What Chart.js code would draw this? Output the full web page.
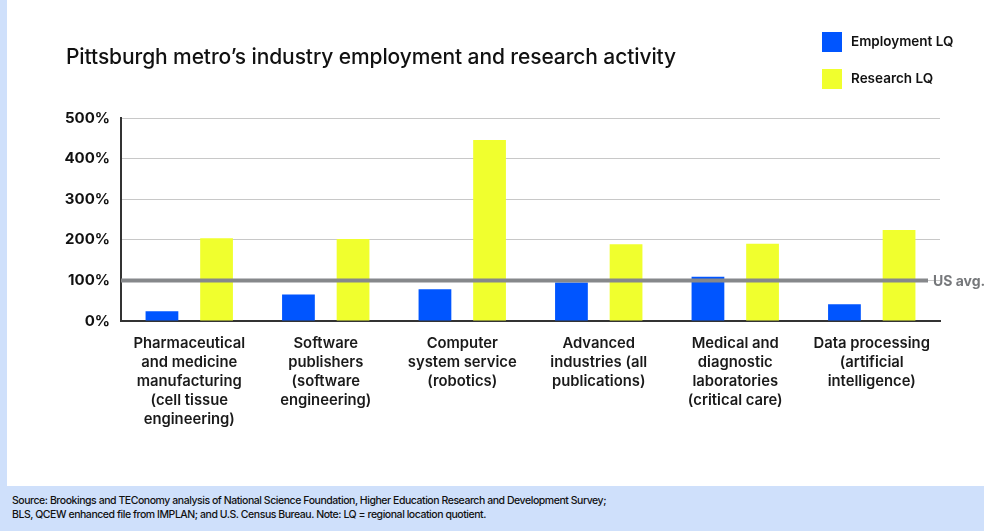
<!DOCTYPE html>
<html>
<head>
<meta charset="utf-8">
<script src="https://cdn.jsdelivr.net/npm/chart.js@4.4.1/dist/chart.umd.min.js"></script>
<style>
  html, body { margin: 0; padding: 0; background: #fff; }
  body { width: 984px; height: 531px; position: relative; overflow: hidden; font-family: Inter, "Noto Sans", sans-serif; color: #111; }
  #strip { position: absolute; left: 0; top: 0; width: 7px; height: 486px; background: #cfe0fb; }
  #chartBox { position: absolute; left: 0; top: 0; width: 984px; height: 531px; }
  #title { position: absolute; left: 66px; top: 44px; font-size: 21px; font-weight: 500; letter-spacing: -0.1px; white-space: nowrap; }
  .legend { position: absolute; left: 822px; font-size: 13.5px; font-weight: 600; white-space: nowrap; }
  .legend span { position: absolute; left: 0; top: 0; width: 20px; height: 20px; }
  .legend b { position: absolute; left: 29px; top: 1px; font-weight: 600; }
  #footer { position: absolute; left: 0; top: 486px; width: 984px; height: 45px; background: #cfe0fb; }
  #footer p { margin: 0; position: absolute; left: 12px; font-size: 10.5px; font-weight: 500; letter-spacing: -0.45px; white-space: nowrap; }
</style>
</head>
<body>
<div id="strip"></div>
<div id="chartBox"><canvas id="lqChart"></canvas></div>
<div id="title">Pittsburgh metro’s industry employment and research activity</div>
<div class="legend" style="top:32px"><span style="background:#0055ff"></span><b>Employment LQ</b></div>
<div class="legend" style="top:69px"><span style="background:#f0ff2e"></span><b>Research LQ</b></div>
<div id="footer">
  <p style="top:8px">Source: Brookings and TEConomy analysis of National Science Foundation, Higher Education Research and Development Survey;</p>
  <p style="top:22px">BLS, QCEW enhanced file from IMPLAN; and U.S. Census Bureau. Note: LQ = regional location quotient.</p>
</div>
<script>
// industries, each label split into its display lines
const industries = [
  ['Pharmaceutical', 'and medicine', 'manufacturing', '(cell tissue', 'engineering)'],
  ['Software', 'publishers', '(software', 'engineering)'],
  ['Computer', 'system service', '(robotics)'],
  ['Advanced', 'industries (all', 'publications)'],
  ['Medical and', 'diagnostic', 'laboratories', '(critical care)'],
  ['Data processing', '(artificial', 'intelligence)']
];

// location quotients, in percent
const employmentLQ = [24, 65, 78, 95, 109, 41];
const researchLQ = [204, 202, 446, 189, 190, 224];

const yTicks = [0, 100, 200, 300, 400, 500];
const usAvg = 100;
const usAvgLabel = 'US avg.';

const blue = '#0055ff';
const yellow = '#f0ff2e';

// thick grey reference line for the national average, drawn over the bars
const usAvgLine = {
  id: 'usAvgLine',
  afterDatasetsDraw(chart) {
    const { ctx, chartArea, scales } = chart;
    const y = scales.y.getPixelForValue(usAvg);
    ctx.save();
    ctx.strokeStyle = '#86888b';
    ctx.lineWidth = 4;
    ctx.beginPath();
    ctx.moveTo(chartArea.left, y);
    ctx.lineTo(chartArea.right - 12, y);
    ctx.stroke();
    ctx.fillStyle = '#76787b';
    ctx.font = '700 14px Inter, sans-serif';
    ctx.textBaseline = 'middle';
    ctx.textAlign = 'left';
    ctx.fillText(usAvgLabel, chartArea.right - 7, y + 1);
    ctx.restore();
  }
};

const ctx = document.getElementById('lqChart').getContext('2d');

new Chart(ctx, {
  type: 'bar',
  data: {
    labels: industries,
    datasets: [
      {
        label: 'Employment LQ',
        backgroundColor: blue,
        data: employmentLQ
      },
      {
        label: 'Research LQ',
        backgroundColor: yellow,
        data: researchLQ
      }
    ]
  },
  options: {
    responsive: true,
    maintainAspectRatio: false,
    animation: false,
    categoryPercentage: 0.8,
    barPercentage: 0.6,
    layout: {
      padding: { left: 41, right: 44, top: 118, bottom: 100 }
    },
    plugins: {
      legend: { display: false },
      title: { display: false },
      tooltip: { enabled: false }
    },
    scales: {
      x: {
        grid: { display: false, drawTicks: false },
        border: { display: true, color: '#333', width: 2 },
        ticks: {
          padding: 13,
          color: '#1a1a1a',
          maxRotation: 0,
          autoSkip: false,
          font: { family: 'Inter', size: 14.8, weight: '600', lineHeight: 1.28 }
        },
        afterFit(scale) { scale.height = 110; }
      },
      y: {
        min: 0,
        max: 500,
        afterBuildTicks(scale) {
          scale.ticks = yTicks.map(v => ({ value: v }));
        },
        grid: { color: '#c8c8c8', lineWidth: 1, drawTicks: false },
        border: { display: true, color: '#333', width: 2 },
        ticks: {
          padding: 11,
          color: '#111',
          font: { family: 'Inter', size: 15, weight: '700' },
          callback: v => v + '%'
        },
        afterFit(scale) { scale.width = 80; }
      }
    }
  },
  plugins: [usAvgLine]
});
</script>
</body>
</html>
